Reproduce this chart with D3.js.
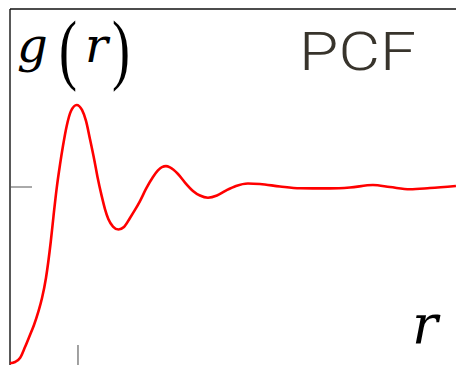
<!DOCTYPE html>
<html><head><meta charset="utf-8">
<script src="https://cdn.jsdelivr.net/npm/d3@7"></script>
<style>html,body{margin:0;padding:0;background:#fff;}svg{display:block;}</style>
</head><body>
<script>
const rValues = [0, 0.074, 0.147, 0.221, 0.294, 0.353, 0.416, 0.471, 0.529, 0.599, 0.640, 0.687, 0.735, 0.779, 0.834, 0.897, 0.981,
  1.059, 1.118, 1.176, 1.240, 1.287, 1.349, 1.397, 1.446, 1.515, 1.596, 1.676, 1.765, 1.838, 1.912, 2.0,
  2.103, 2.176, 2.235, 2.294, 2.353, 2.471, 2.574, 2.691, 2.794, 2.912, 3.044, 3.176, 3.324, 3.5, 3.676,
  3.971, 4.265, 4.706, 5.0, 5.338, 5.588, 5.882, 6.176, 6.559];
const gValues = [0.0096, 0.017, 0.039, 0.101, 0.169, 0.225, 0.298, 0.376, 0.489, 0.691, 0.837, 0.994, 1.124, 1.230, 1.343, 1.427, 1.461,
  1.433, 1.371, 1.270, 1.152, 1.056, 0.949, 0.876, 0.820, 0.778, 0.761, 0.775, 0.826, 0.871, 0.921, 0.989,
  1.056, 1.093, 1.112, 1.117, 1.110, 1.073, 1.025, 0.978, 0.952, 0.940, 0.952, 0.980, 1.006, 1.020, 1.017,
  1.003, 0.993, 0.992, 0.997, 1.011, 1.0, 0.987, 0.994, 1.006];
const xTicks = [1];
const yTicks = [1];

const W = 456, H = 365;
const svg = d3.select("body").append("svg").attr("width", W).attr("height", H);
const x = d3.scaleLinear().domain([0, 6.56]).range([10, 456]);
const y = d3.scaleLinear().domain([0, 2]).range([365, 9]);

svg.append("line").attr("x1", 10).attr("x2", 10).attr("y1", 9).attr("y2", 365)
  .attr("stroke", "#222").attr("stroke-width", 1.5);
svg.append("line").attr("x1", 10).attr("x2", 456).attr("y1", 9).attr("y2", 9)
  .attr("stroke", "#111").attr("stroke-width", 1.5);

svg.selectAll(".yt").data(yTicks).enter().append("line")
  .attr("x1", 10).attr("x2", 32).attr("y1", d => y(d)).attr("y2", d => y(d))
  .attr("stroke", "#555").attr("stroke-width", 1);
svg.selectAll(".xt").data(xTicks).enter().append("line")
  .attr("x1", d => x(d)).attr("x2", d => x(d)).attr("y1", 345).attr("y2", 365)
  .attr("stroke", "#444").attr("stroke-width", 1);

const pts = rValues.map((r, i) => [r, gValues[i]]);
const line = d3.line().x(d => x(d[0])).y(d => y(d[1])).curve(d3.curveMonotoneX);
svg.append("path").attr("d", line(pts)).attr("fill", "none")
  .attr("stroke", "#ff0000").attr("stroke-width", 2.6).attr("stroke-linejoin", "round");

// g(r) label
const serif = "'DejaVu Serif', 'Liberation Serif', serif";
svg.append("text").attr("x", 17).attr("y", 62).attr("font-family", serif).attr("font-style", "italic")
  .attr("font-size", 48).attr("fill", "#000").text("g");
svg.append("text").attr("x", 85).attr("y", 62).attr("font-family", serif).attr("font-style", "italic")
  .attr("font-size", 48).attr("fill", "#000").text("r");
[["(", 59], [")", 112]].forEach(([ch, px]) => {
  svg.append("text").attr("x", 0).attr("y", 0)
    .attr("font-family", "'Liberation Serif', serif").attr("font-size", 54).attr("fill", "#000")
    .attr("transform", `translate(${px},75) scale(1,1.45)`).text(ch);
});

const pcf = svg.append("text").attr("x", 0).attr("y", 70)
  .attr("font-family", "Roboto, 'Liberation Sans', sans-serif").attr("font-weight", 300).attr("font-size", 53.5)
  .attr("fill", "#38342c").text("PCF");
const bb = pcf.node().getBBox();
const s = 117 / bb.width;
pcf.attr("transform", `translate(${299 - bb.x * s},0) scale(${s},1)`);

svg.append("text").attr("x", 412).attr("y", 343).attr("font-family", serif).attr("font-style", "italic")
  .attr("font-size", 54).attr("fill", "#000").text("r");
</script>
</body></html>
